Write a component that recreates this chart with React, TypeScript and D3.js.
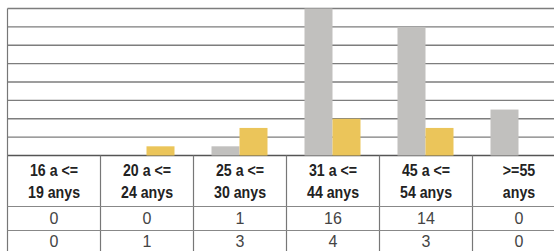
import React from 'react';
import * as d3 from 'd3';

// age groups (header labels, two lines each)
const categories = ['16-19', '20-24', '25-30', '31-44', '45-54', '55+'];
const headerLine1 = ['16 a <=', '20 a <=', '25 a <=', '31 a <=', '45 a <=', '>=55'];
const headerLine2 = ['19 anys', '24 anys', '30 anys', '44 anys', '54 anys', 'anys'];

// bar heights as drawn
const greyValues = [0, 0, 1, 16, 14, 5];
const yellowValues = [0, 1, 3, 4, 3, 0];

// values printed in the table rows
const tableRow1 = ['0', '0', '1', '16', '14', '0'];
const tableRow2 = ['0', '1', '3', '4', '3', '0'];

const gridTicks = [0, 2, 4, 6, 8, 10, 12, 14, 16];

const GREY = '#c1c0be';
const YELLOW = '#ebc55a';

export default function App() {
    const W = 554;
    const H = 251;
    const left = 7.5;
    const colW = 93;
    const top = 8.5;
    const base = 155.5;

    const x = d3.scaleBand<string>()
        .domain(categories)
        .range([left, left + colW * categories.length])
        .padding(0);

    const inner = d3.scaleBand<string>()
        .domain(['grey', 'yellow'])
        .range([18, 18 + 56]);

    const y = d3.scaleLinear().domain([0, 16]).range([base, top]);

    const rowLines = [206.5, 230.5];
    const font = '"Liberation Sans", Arial, sans-serif';

    return (
        <div style={{ position: 'absolute', left: 0, top: 0 }}>
            <svg width={W} height={H} style={{ display: 'block', background: '#fff' }}>
                {/* grid */}
                {gridTicks.map(t => (
                    <line key={t} x1={left} x2={W + 20} y1={y(t)} y2={y(t)}
                        stroke={t === 0 ? '#555' : '#7d7d7d'} strokeWidth={t === 0 ? 1.5 : 1.3} />
                ))}

                {/* bars */}
                {categories.map((c, i) => (
                    <g key={c} transform={`translate(${x(c)},0)`}>
                        <rect x={inner('grey')} width={inner.bandwidth()}
                            y={y(greyValues[i])} height={base - y(greyValues[i])} fill={GREY} />
                        <rect x={inner('yellow')} width={inner.bandwidth()}
                            y={y(yellowValues[i])} height={base - y(yellowValues[i])} fill={YELLOW} />
                    </g>
                ))}

                {/* table frame */}
                <line x1={left} x2={left} y1={top} y2={H} stroke="#777" strokeWidth={1.2} />
                {categories.map(c => (
                    <line key={c} x1={(x(c) ?? 0) + colW} x2={(x(c) ?? 0) + colW} y1={base} y2={H}
                        stroke="#777" strokeWidth={1.2} />
                ))}
                {rowLines.map(r => (
                    <line key={r} x1={left} x2={W + 20} y1={r} y2={r} stroke="#888" strokeWidth={1} />
                ))}

                {/* header, condensed bold */}
                {categories.map((c, i) => {
                    const cx = (x(c) ?? 0) + x.bandwidth() / 2;
                    return (
                        <text key={c} transform={`translate(${cx},0) scale(0.86,1)`} textAnchor="middle"
                            fontFamily={font} fontWeight="bold" fontSize={16.5} fill="#222">
                            <tspan x={0} y={176.5}>{headerLine1[i]}</tspan>
                            <tspan x={0} y={198.5}>{headerLine2[i]}</tspan>
                        </text>
                    );
                })}

                {/* values */}
                {categories.map((c, i) => {
                    const cx = (x(c) ?? 0) + x.bandwidth() / 2;
                    return (
                        <g key={c} fontFamily={font} fontSize={16}
                            fill="#444" textAnchor="middle">
                            <text x={cx} y={224}>{tableRow1[i]}</text>
                            <text x={cx} y={246.5}>{tableRow2[i]}</text>
                        </g>
                    );
                })}
            </svg>
        </div>
    );
}
